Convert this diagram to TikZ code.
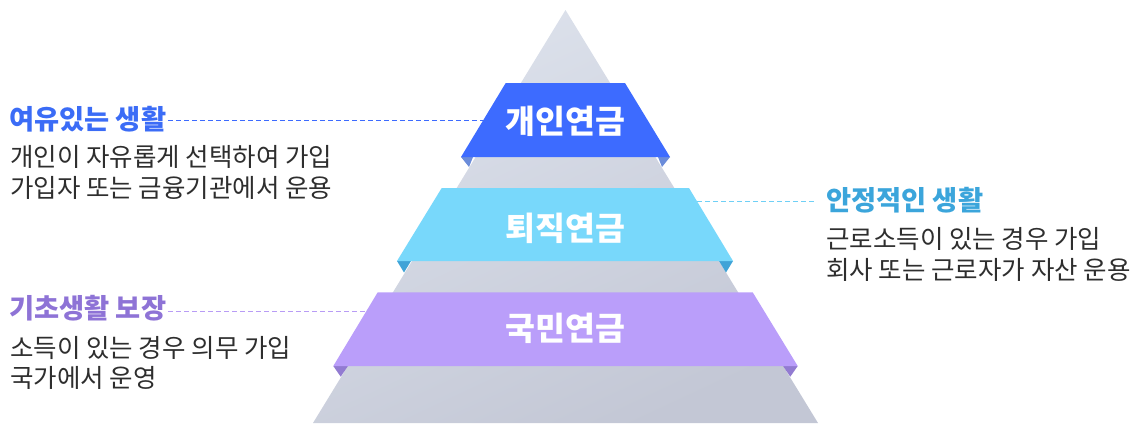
\documentclass[tikz,border=0pt]{standalone}
\usepackage{fontspec}
\setmainfont{Noto Sans CJK KR}
\usetikzlibrary{calc}
\definecolor{pyrtop}{HTML}{DDE2EC}
\definecolor{pyrbot}{HTML}{C3C7D5}
\definecolor{bandA}{HTML}{3D6BFF}
\definecolor{foldA}{HTML}{6B8CDA}
\definecolor{bandB}{HTML}{78D8FB}
\definecolor{foldB}{HTML}{40A3D7}
\definecolor{bandC}{HTML}{BA9EFA}
\definecolor{foldC}{HTML}{927BD1}
\definecolor{titleA}{HTML}{3B6CF6}
\definecolor{titleB}{HTML}{3BA5DB}
\definecolor{titleC}{HTML}{8E73D6}
\definecolor{leadA}{HTML}{3D6BFF}
\definecolor{leadB}{HTML}{6FD0F6}
\definecolor{leadC}{HTML}{B89CF5}
\definecolor{desc}{HTML}{2E2E2E}
\tikzset{
  bandlabel/.style={text=white, font=\fontsize{32.5}{32.5}\selectfont\bfseries, inner sep=0},
  titletext/.style={anchor=west, inner sep=0, font=\fontsize{27.3}{27.3}\selectfont\bfseries},
  desctext/.style={anchor=west, inner sep=0, text=desc, font=\fontsize{25.5}{25.5}\selectfont},
  leader/.style={dash pattern=on 5pt off 3pt, line width=1.1pt},
}
\begin{document}
\begin{tikzpicture}[x=1pt,y=-1pt]
\useasboundingbox (0,0) rectangle (1139,423);
% pyramid
\shade[shading=axis, top color=pyrtop, bottom color=pyrbot, shading angle=25]
  (565.5,10) -- (818,423) -- (313,423) -- cycle;
% band A
\fill[foldA] (461,157) -- (473,157) -- (469,167) -- cycle;
\fill[foldA] (670,157) -- (658,157) -- (662,167) -- cycle;
\fill[bandA] (505.7,83) -- (625,83) -- (670,157) -- (461,157) -- cycle;
\node[bandlabel] (bA) at (565.5,121) {개인연금};
% band B
\fill[foldB] (397,261) -- (411,261) -- (404,272.5) -- cycle;
\fill[foldB] (733,261) -- (719,261) -- (726,272.5) -- cycle;
\fill[bandB] (441.7,188) -- (689,188) -- (733,261) -- (397,261) -- cycle;
\node[bandlabel] (bB) at (565.5,228) {퇴직연금};
% band C
\fill[foldC] (333.3,366) -- (348,366) -- (340.7,376.7) -- cycle;
\fill[foldC] (797.7,366) -- (783,366) -- (790.3,376.7) -- cycle;
\fill[bandC] (377.7,292.3) -- (752.7,292.3) -- (797.7,366) -- (333.3,366) -- cycle;
\node[bandlabel] (bC) at (565.5,328) {국민연금};
% left top
\node[titletext, text=titleA] (tA) at (9,119) {여유있는 생활};
\node[desctext] (dA1) at (10,157) {개인이 자유롭게 선택하여 가입};
\node[desctext] (dA2) at (10,188) {가입자 또는 금융기관에서 운용};
\coordinate (eA) at (483,120.5);
\draw[leader, leadA] ([xshift=2pt]tA.east |- eA) -- (eA);
% right
\node[titletext, text=titleB] (tB) at (826,200.5) {안정적인 생활};
\node[desctext] (dB1) at (826,239) {근로소득이 있는 경우 가입};
\node[desctext] (dB2) at (826,270) {회사 또는 근로자가 자산 운용};
\coordinate (eB) at (697,201.5);
\draw[leader, leadB] (eB) -- ([xshift=-12pt]tB.west |- eB);
% left bottom
\node[titletext, text=titleC] (tC) at (9,308) {기초생활 보장};
\node[desctext] (dC1) at (10,348) {소득이 있는 경우 의무 가입};
\node[desctext] (dC2) at (10,377.5) {국가에서 운영};
\coordinate (eC) at (366,311.5);
\draw[leader, leadC] ([xshift=2pt]tC.east |- eC) -- (eC);
\end{tikzpicture}
\end{document}
